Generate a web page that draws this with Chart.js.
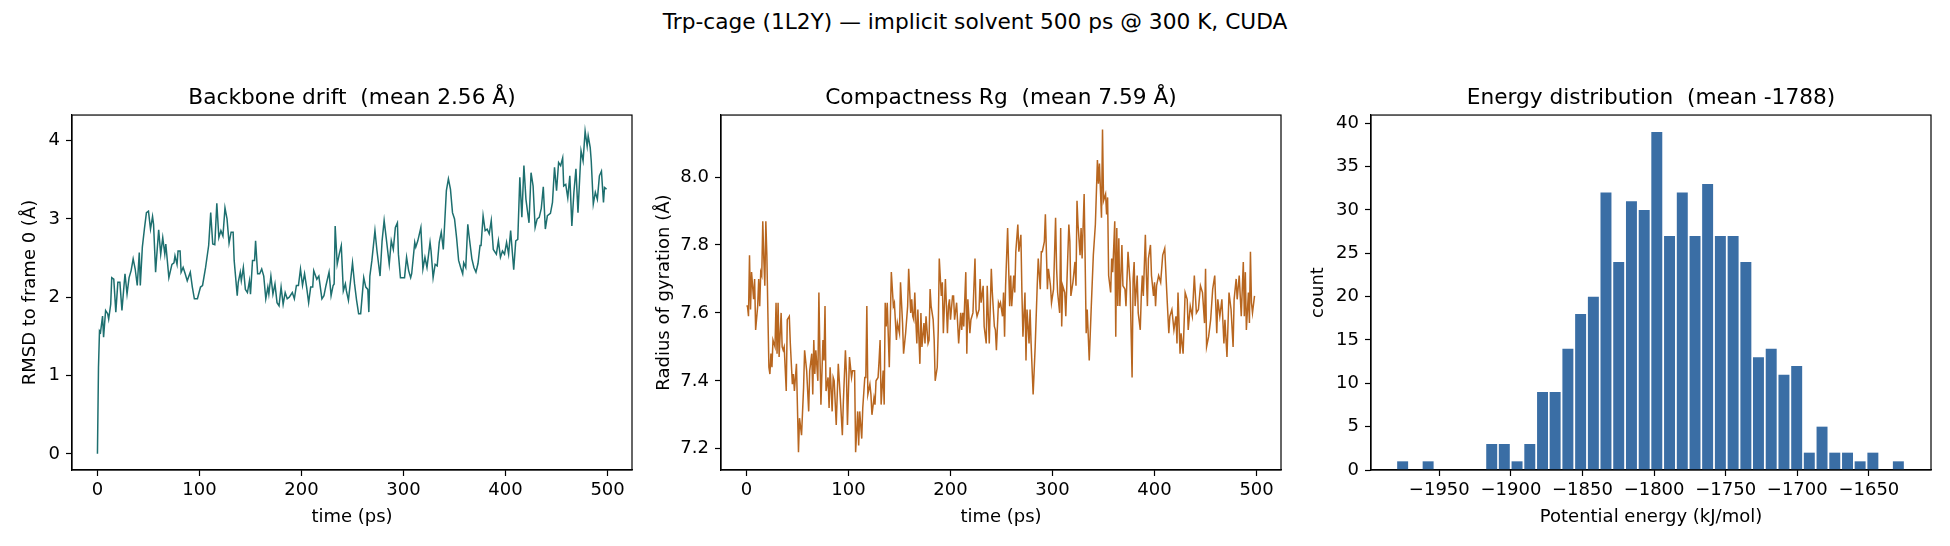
<!DOCTYPE html>
<html lang="en">
<head>
<meta charset="UTF-8">
<title>Trp-cage MD summary</title>
<script src="https://cdn.jsdelivr.net/npm/chart.js@4.4.1/dist/chart.umd.min.js"></script>
<style>
  body { margin: 0; background: #fff; }
  #wrap { position: relative; width: 1950px; height: 546px; }
  #wrap canvas { position: absolute; left: 0; top: 0; }
  #suptitle { position: absolute; left: 0; top: 9px; width: 1950px; text-align: center;
              font: 21.7px 'DejaVu Sans', sans-serif; line-height: 26px; color: #000; }
</style>
</head>
<body>
<div id="wrap">
  <div id="suptitle">Trp-cage (1L2Y) — implicit solvent 500 ps @ 300 K, CUDA</div>
  <canvas id="c1" width="1950" height="546"></canvas>
  <canvas id="c2" width="1950" height="546"></canvas>
  <canvas id="c3" width="1950" height="546"></canvas>
</div>
<script>
// backbone RMSD vs time
const rmsdTime = [
  0,1,2,3,5,6,8,10,11,13,
  14,16,18,20,22,24,27,29,31,33,
  35,37,39,41,42,44,46,48,50,52,
  54,55,57,58,60,62,64,66,67,70,
  73,75,76,78,79,81,82,84,86,88,
  91,93,95,98,101,103,106,109,111,113,
  115,117,119,121,123,125,127,129,131,133,
  134,137,138,140,141,143,145,147,149,150,
  152,154,155,157,159,161,163,165,167,168,
  170,172,174,176,178,180,182,184,186,188,
  191,193,195,197,199,201,203,205,207,209,
  211,212,215,217,220,222,224,227,229,231,
  232,233,235,237,239,241,243,244,246,250,
  252,254,256,258,261,263,265,266,267,269,
  272,274,277,279,281,283,286,288,290,292,
  294,295,297,299,301,303,305,307,308,311,
  312,314,317,319,321,323,326,327,329,331,
  333,335,337,339,342,344,346,348,350,352,
  354,356,358,359,361,363,364,367,369,371,
  373,375,376,378,380,382,384,386,388,391,
  393,395,397,399,401,403,405,408,410,412,
  414,416,418,420,423,425,427,429,431,433,
  435,437,439,441,444,446,448,450,452,454,
  456,457,459,461,463,465,467,469,471,474,
  476,478,480,481,483,484,486,488,490,492,
  494,496,497,499
];
const rmsdValue = [
  0,1.10,1.57,1.55,1.76,1.49,1.83,1.79,1.72,1.91,
  2.25,2.23,1.81,2.19,2.19,1.83,2.30,2.04,2.25,2.34,
  2.49,2.36,2.15,2.57,2.15,2.64,2.87,3.08,3.10,2.87,
  3.03,2.93,2.32,2.51,2.86,2.55,2.76,2.55,2.68,2.25,
  2.42,2.44,2.53,2.42,2.59,2.59,2.32,2.38,2.30,2.21,
  2.32,2.13,1.98,1.98,2.13,2.15,2.38,2.66,3.08,2.68,
  2.67,3.20,2.76,2.85,2.78,3.14,3.00,2.69,2.83,2.83,
  2.47,2.02,2.19,2.32,2.21,2.38,2.10,2.06,2.21,2.04,
  2.47,2.47,2.72,2.30,2.30,2.36,2.27,1.98,2.13,2.04,
  2.27,2.04,2.17,1.93,1.89,2.13,1.91,2.06,1.98,2.00,
  2.06,1.98,2.15,2.15,2.36,2.15,2.30,2.13,1.93,2.13,
  2.13,2.34,2.23,2.27,1.98,2.02,2.15,2.32,2.02,2.15,
  2.17,2.91,2.42,2.55,2.66,2.08,2.17,2.08,1.96,2.44,
  2.17,1.96,1.79,1.79,2.25,2.13,2.10,1.81,2.27,2.47,
  2.85,2.59,2.27,2.72,2.98,2.76,2.42,2.72,2.61,2.89,
  2.95,2.55,2.25,2.25,2.25,2.51,2.34,2.25,2.30,2.70,
  2.64,2.72,2.89,2.36,2.51,2.38,2.70,2.59,2.25,2.42,
  2.40,2.70,2.83,2.61,3.36,3.51,3.38,3.08,3.00,2.76,
  2.47,2.38,2.30,2.44,2.38,2.93,2.81,2.49,2.38,2.32,
  2.43,2.66,2.66,3.04,2.85,2.87,2.81,2.98,2.61,2.55,
  2.72,2.51,2.59,2.55,2.70,2.55,2.85,2.35,2.72,2.74,
  3.53,3.02,3.68,3.25,2.95,3.59,3.42,2.89,3.00,3.02,
  3.13,3.41,2.87,3.04,3.07,3.21,3.66,3.36,3.72,3.68,
  3.78,3.42,3.44,3.27,3.55,2.91,3.34,3.64,3.08,3.87,
  3.74,4.12,3.93,4.06,3.91,3.74,3.19,3.34,3.25,3.55,
  3.61,3.21,3.40,3.38
];

// radius of gyration vs time
const rgTime = [
  0,1,2,3,4,5,7,8,9,11,
  12,13,14,15,16,17,18,19,20,21,
  22,23,24,25,26,28,29,30,31,32,
  34,35,36,37,39,40,42,43,45,46,
  47,49,51,52,54,56,57,59,61,62,
  64,65,66,67,68,70,71,72,73,75,
  76,77,78,80,81,82,84,85,86,88,
  90,92,94,95,97,98,99,101,103,104,
  106,107,109,110,111,113,114,116,117,118,
  119,121,122,123,125,126,127,129,130,131,
  132,134,135,136,137,138,140,142,144,145,
  147,148,150,151,153,154,156,158,159,161,
  162,163,164,165,166,167,168,170,171,172,
  174,175,176,178,179,180,181,183,184,185,
  187,188,189,191,192,193,194,195,197,198,
  199,200,202,203,204,206,208,210,211,212,
  213,215,216,217,219,220,222,224,225,226,
  228,229,230,232,233,235,236,238,240,241,
  243,244,245,247,248,249,251,252,253,254,
  256,258,259,260,262,263,264,266,267,269,
  270,271,273,274,275,277,278,279,281,283,
  285,286,288,289,290,292,293,295,296,298,
  299,301,303,304,305,307,308,309,310,312,
  313,314,316,317,318,320,322,323,324,325,
  327,328,329,331,332,333,334,336,338,340,
  342,344,345,346,348,349,350,352,353,354,
  355,357,358,359,361,362,363,364,365,366,
  368,369,371,372,374,376,378,379,380,381,
  383,384,386,387,388,389,391,392,393,394,
  396,397,399,400,401,402,404,406,408,410,
  412,414,415,417,419,421,422,423,425,426,
  428,430,432,433,435,437,439,441,443,445,
  447,449,450,451,453,455,457,459,461,462,
  464,466,468,469,471,473,475,477,478,480,
  481,483,485,487,488,489,490,492,493,494,
  495,496,498
];
const rgValue = [
  7.62,7.62,7.59,7.77,7.61,7.72,7.64,7.70,7.55,7.62,
  7.70,7.62,7.72,7.71,7.87,7.76,7.68,7.87,7.77,7.60,
  7.44,7.42,7.48,7.44,7.52,7.50,7.63,7.48,7.63,7.47,
  7.60,7.50,7.49,7.50,7.37,7.58,7.59,7.51,7.39,7.42,
  7.37,7.45,7.19,7.29,7.24,7.38,7.49,7.43,7.31,7.43,
  7.48,7.36,7.52,7.42,7.49,7.40,7.66,7.48,7.33,7.52,
  7.46,7.62,7.37,7.41,7.32,7.44,7.31,7.41,7.40,7.27,
  7.45,7.35,7.24,7.34,7.49,7.42,7.27,7.47,7.41,7.43,
  7.43,7.19,7.31,7.21,7.31,7.23,7.32,7.41,7.41,7.62,
  7.36,7.39,7.36,7.30,7.35,7.33,7.40,7.41,7.46,7.52,
  7.33,7.43,7.33,7.63,7.56,7.63,7.44,7.72,7.62,7.63,
  7.52,7.57,7.54,7.69,7.57,7.48,7.54,7.62,7.73,7.60,
  7.64,7.59,7.58,7.66,7.58,7.51,7.61,7.45,7.60,7.50,
  7.57,7.51,7.59,7.51,7.52,7.67,7.62,7.58,7.52,7.40,
  7.44,7.55,7.76,7.65,7.69,7.54,7.62,7.70,7.54,7.62,
  7.64,7.58,7.65,7.65,7.58,7.63,7.51,7.60,7.55,7.60,
  7.56,7.72,7.48,7.64,7.54,7.58,7.60,7.76,7.61,7.59,
  7.61,7.70,7.63,7.68,7.56,7.51,7.68,7.51,7.73,7.66,
  7.56,7.55,7.49,7.63,7.62,7.63,7.59,7.66,7.53,7.68,
  7.85,7.62,7.71,7.62,7.71,7.66,7.78,7.86,7.78,7.83,
  7.66,7.53,7.66,7.46,7.61,7.51,7.61,7.51,7.36,7.50,
  7.68,7.76,7.67,7.78,7.78,7.81,7.89,7.67,7.73,7.68,
  7.63,7.67,7.88,7.73,7.66,7.60,7.85,7.56,7.68,7.66,
  7.59,7.68,7.86,7.81,7.65,7.69,7.75,7.68,7.93,7.86,
  7.77,7.85,7.76,7.95,7.75,7.54,7.61,7.46,7.62,7.77,
  7.86,8.05,7.98,8.04,7.88,8.14,7.93,7.95,7.89,7.94,
  7.71,7.66,7.76,7.72,7.87,7.53,7.85,7.62,7.82,7.62,
  7.80,7.68,7.67,7.62,7.78,7.69,7.41,7.70,7.75,7.62,
  7.71,7.60,7.55,7.65,7.71,7.65,7.83,7.71,7.62,7.76,
  7.80,7.71,7.65,7.69,7.62,7.68,7.71,7.69,7.77,7.79,
  7.66,7.54,7.59,7.61,7.55,7.59,7.51,7.66,7.48,7.54,
  7.48,7.66,7.64,7.55,7.62,7.59,7.71,7.60,7.61,7.68,
  7.66,7.57,7.73,7.50,7.53,7.58,7.67,7.71,7.54,7.64,
  7.59,7.64,7.51,7.58,7.47,7.66,7.61,7.50,7.64,7.70,
  7.64,7.71,7.59,7.75,7.59,7.72,7.55,7.66,7.57,7.78,
  7.63,7.60,7.65
];

// potential energy histogram (40 bins)
const energyBinCenter = [
  -1975.6,-1966.7,-1957.8,-1948.9,-1940.1,-1931.2,-1922.3,-1913.4,-1904.6,-1895.7,
  -1886.8,-1877.9,-1869.1,-1860.2,-1851.3,-1842.4,-1833.6,-1824.7,-1815.8,-1806.9,
  -1798.1,-1789.2,-1780.3,-1771.4,-1762.6,-1753.7,-1744.8,-1735.9,-1727.1,-1718.2,
  -1709.3,-1700.4,-1691.6,-1682.7,-1673.8,-1664.9,-1656.1,-1647.2,-1638.3,-1629.4
];
const energyCount = [
  1,0,1,0,0,0,0,3,3,1,
  3,9,9,14,18,20,32,24,31,30,
  39,27,32,27,33,27,27,24,13,14,
  11,12,2,5,2,2,1,2,0,1
];

const timeTicks = [0, 100, 200, 300, 400, 500];
const rmsdTicks = [0, 1, 2, 3, 4];
const rgTicks = [7.2, 7.4, 7.6, 7.8, 8.0];
const energyTicks = [-1950, -1900, -1850, -1800, -1750, -1700, -1650];
const countTicks = [0, 5, 10, 15, 20, 25, 30, 35, 40];

Chart.defaults.font.family = "'DejaVu Sans', sans-serif";
Chart.defaults.color = '#000';
Chart.defaults.animation = false;

const TICK_FONT = 18;
const TITLE_FONT = 21.7;

// matplotlib-style box around the axes
const frameBox = {
  id: 'frameBox',
  afterDraw(chart) {
    const a = chart.chartArea;
    const ctx = chart.ctx;
    ctx.save();
    ctx.strokeStyle = '#000';
    ctx.lineWidth = 1.2;
    ctx.strokeRect(a.left, a.top, a.right - a.left, a.bottom - a.top);
    ctx.restore();
  }
};

function toPoints(xs, ys) {
  return xs.map((x, i) => ({ x: x, y: ys[i] }));
}

function minusSign(v) {
  return v < 0 ? '\u2212' + Math.abs(v) : String(v);
}

function makeScale(p) {
  const horiz = p.axis === 'x';
  return {
    type: 'linear',
    min: p.min,
    max: p.max,
    offset: false,
    grid: { display: true, drawOnChartArea: false, drawTicks: true, tickLength: 6,
            tickWidth: 1.2, color: '#000', offset: false },
    border: { display: true, color: '#000', width: 1.2 },
    ticks: { font: { size: TICK_FONT }, padding: horiz ? 4 : 6, maxRotation: 0,
             autoSkip: false, callback: p.fmt },
    afterBuildTicks: s => { s.ticks = p.ticks.map(v => ({ value: v })); },
    afterFit: s => { if (horiz) s.height = 60; else s.width = 70; },
    title: { display: true, text: p.label, font: { size: TICK_FONT },
             padding: horiz ? { top: 0, bottom: 1.5 } : { top: p.titlePad, bottom: 0 } }
  };
}

function panelOptions(p) {
  return {
    responsive: false,
    devicePixelRatio: 1,
    layout: { padding: { left: p.left - 70, right: 1950 - p.right, top: 0, bottom: 16 } },
    plugins: {
      legend: { display: false },
      tooltip: { enabled: false },
      title: { display: true, text: p.title, fullSize: false, color: '#000',
               font: { size: TITLE_FONT, weight: 'normal' }, padding: { top: 85, bottom: 4 } }
    },
    scales: { x: makeScale(p.x), y: makeScale(p.y) }
  };
}

new Chart(document.getElementById('c1'), {
  type: 'line',
  data: { datasets: [{ data: toPoints(rmsdTime, rmsdValue), borderColor: '#1d6f6f',
                       borderWidth: 1.5, pointRadius: 0, tension: 0, fill: false }] },
  options: panelOptions({
    left: 72, right: 632, title: 'Backbone drift  (mean 2.56 Å)',
    x: { axis: 'x', min: -24.95, max: 523.95, ticks: timeTicks, fmt: v => String(v), label: 'time (ps)' },
    y: { axis: 'y', min: -0.206, max: 4.326, ticks: rmsdTicks, fmt: v => String(v),
         label: 'RMSD to frame 0 (Å)', titlePad: 18 }
  }),
  plugins: [frameBox]
});

new Chart(document.getElementById('c2'), {
  type: 'line',
  data: { datasets: [{ data: toPoints(rgTime, rgValue), borderColor: '#b8661f',
                       borderWidth: 1.5, pointRadius: 0, tension: 0, fill: false }] },
  options: panelOptions({
    left: 721, right: 1281, title: 'Compactness Rg  (mean 7.59 Å)',
    x: { axis: 'x', min: -24.95, max: 523.95, ticks: timeTicks, fmt: v => String(v), label: 'time (ps)' },
    y: { axis: 'y', min: 7.1375, max: 8.1825, ticks: rgTicks, fmt: v => v.toFixed(1),
         label: 'Radius of gyration (Å)', titlePad: 3 }
  }),
  plugins: [frameBox]
});

new Chart(document.getElementById('c3'), {
  type: 'bar',
  data: { datasets: [{ data: toPoints(energyBinCenter, energyCount), backgroundColor: '#3a6ea5',
                       borderWidth: 0, barPercentage: 0.87, categoryPercentage: 1 }] },
  options: panelOptions({
    left: 1371, right: 1931, title: 'Energy distribution  (mean -1788)',
    x: { axis: 'x', min: -1997.7, max: -1606.6, ticks: energyTicks, fmt: minusSign,
         label: 'Potential energy (kJ/mol)' },
    y: { axis: 'y', min: 0, max: 40.95, ticks: countTicks, fmt: v => String(v),
         label: 'count', titlePad: 7 }
  }),
  plugins: [frameBox]
});
</script>
</body>
</html>
